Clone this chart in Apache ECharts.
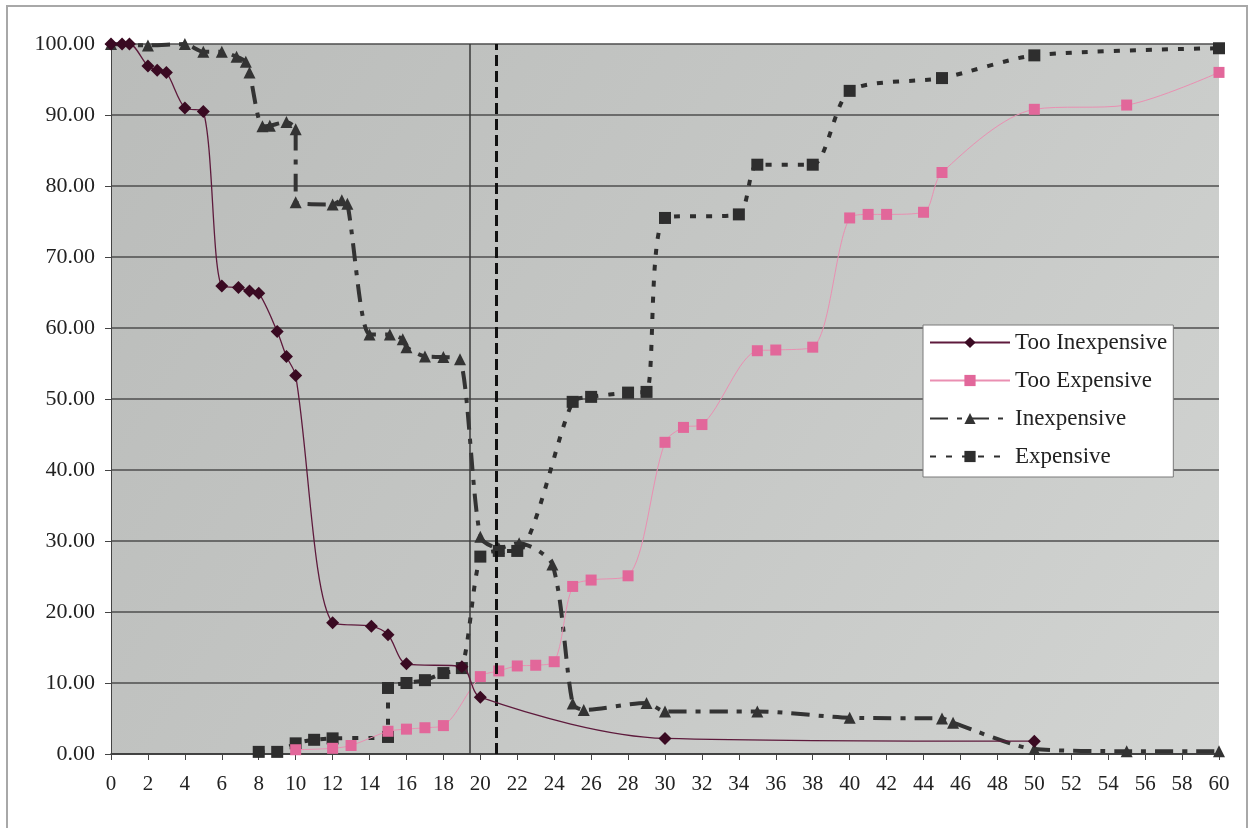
<!DOCTYPE html>
<html>
<head>
<meta charset="utf-8">
<title>Price sensitivity</title>
<script src="https://cdn.jsdelivr.net/npm/echarts@6/dist/echarts.min.js"></script>
<style>
  html, body { margin: 0; padding: 0; background: #fff; }
  #chart { width: 1251px; height: 828px; }
</style>
</head>
<body>
<div id="chart"></div>
<script>
// values, [price, percent]
const tooInexpensive = [
  [0, 100], [0.6, 100], [1, 100], [2, 96.9], [2.5, 96.3], [3, 96.0], [4, 91.0], [5, 90.5],
  [6, 65.9], [6.9, 65.7], [7.5, 65.2], [8, 64.9], [9, 59.5], [9.5, 56.0], [10, 53.3],
  [12, 18.5], [14.1, 18.0], [15, 16.8], [16, 12.7], [19, 12.3], [20, 8.0], [30, 2.2], [50, 1.8]
];
const tooExpensive = [
  [10, 0.6], [12, 0.8], [13, 1.2], [15, 3.2], [16, 3.5], [17, 3.7], [18, 4.0], [20, 10.9],
  [21, 11.7], [22, 12.4], [23, 12.5], [24, 13.0], [25, 23.6], [26, 24.5], [28, 25.1],
  [30, 43.9], [31, 46.0], [32, 46.4], [35, 56.8], [36, 56.9], [38, 57.3], [40, 75.5],
  [41, 76.0], [42, 76.0], [44, 76.3], [45, 81.9], [50, 90.8], [55, 91.4], [60, 96.0]
];
const inexpensive = [
  [0, 100], [2, 99.8], [4, 100], [5, 98.9], [6, 98.9], [6.8, 98.2], [7.3, 97.5], [7.5, 96.0],
  [8.2, 88.4], [8.6, 88.5], [9.5, 89.0], [10, 88.0], [10, 77.7], [12, 77.4], [12.5, 78.0],
  [12.8, 77.5], [14, 59.1], [15.1, 59.1], [15.8, 58.4], [16, 57.3], [17, 56.0], [18, 55.9],
  [18.9, 55.6], [20, 30.6], [21, 29.0], [22.1, 29.7], [23.9, 26.7], [25, 7.1], [25.6, 6.2],
  [29, 7.2], [30, 6.0], [35, 6.0], [40, 5.1], [45, 5.0], [45.6, 4.4], [50, 0.7], [55, 0.4], [60, 0.4]
];
const expensive = [
  [8, 0.3], [9, 0.3], [10, 1.5], [11, 2.0], [12, 2.2], [15, 2.4], [15, 9.3], [16, 10.0],
  [17, 10.4], [18, 11.4], [19, 12.1], [20, 27.8], [21, 28.6], [22, 28.6], [25, 49.6],
  [26, 50.3], [28, 50.9], [29, 51.0], [30, 75.5], [34, 76.0], [35, 83.0], [38, 83.0],
  [40, 93.4], [45, 95.2], [50, 98.4], [60, 99.4]
];
// vertical reference lines (price points)
const markerPrices = [19.4, 20.85];

const serif = 'Liberation Serif, Times New Roman, serif';

const chart = echarts.init(document.getElementById('chart'), null, { renderer: 'canvas' });

const option = {
  backgroundColor: '#fff',
  animation: false,
  graphic: [{
    type: 'rect',
    silent: true,
    z: -10,
    shape: { x: 7, y: 6, width: 1240, height: 840 },
    style: { fill: 'none', stroke: '#a8a8a8', lineWidth: 2 }
  }],
  grid: {
    left: 111, top: 44, right: 32, bottom: 74,
    show: true,
    borderWidth: 0,
    backgroundColor: new echarts.graphic.LinearGradient(0, 0, 1, 1, [
      { offset: 0, color: '#babcba' },
      { offset: 0.5, color: '#c5c7c5' },
      { offset: 1, color: '#d2d4d2' }
    ])
  },
  legend: {
    orient: 'vertical',
    left: 923, top: 325,
    backgroundColor: '#fff',
    borderColor: '#7a7a7a',
    borderWidth: 1,
    padding: [6, 6, 9, 6],
    itemWidth: 80,
    itemHeight: 14,
    itemGap: 15,
    textStyle: { fontFamily: serif, fontSize: 23, color: '#222' },
    data: ['Too Inexpensive', 'Too Expensive', 'Inexpensive', 'Expensive']
  },
  xAxis: {
    type: 'value',
    min: 0, max: 60, interval: 2,
    axisLine: { lineStyle: { color: '#333', width: 1.5 } },
    axisTick: { show: true, inside: false, length: 6, lineStyle: { color: '#444' } },
    axisLabel: { fontFamily: serif, fontSize: 21, color: '#222', margin: 20 },
    splitLine: { show: false }
  },
  yAxis: {
    type: 'value',
    min: 0, max: 100, interval: 10,
    axisLine: { show: true, lineStyle: { color: '#444', width: 1 } },
    axisTick: { show: true, inside: false, length: 6, lineStyle: { color: '#444' } },
    axisLabel: {
      fontFamily: serif, fontSize: 22, color: '#222', margin: 16,
      formatter: v => v.toFixed(2)
    },
    splitLine: { lineStyle: { color: '#4e4e4e', width: 1.5 } }
  },
  series: [
    {
      name: 'Too Inexpensive',
      type: 'line',
      smooth: 0.3,
      data: tooInexpensive,
      symbol: 'diamond',
      symbolSize: 13,
      lineStyle: { color: '#5e1a3c', width: 1.3 },
      itemStyle: { color: '#3a0a22' },
      z: 5,
      markLine: {
        silent: true,
        symbol: 'none',
        label: { show: false },
        data: [
          { xAxis: markerPrices[0], lineStyle: { color: '#3a3a3a', width: 1.5, type: 'solid' } },
          { xAxis: markerPrices[1], lineStyle: { color: '#111', width: 3, type: [11, 5] } }
        ]
      }
    },
    {
      name: 'Too Expensive',
      type: 'line',
      smooth: 0.3,
      data: tooExpensive,
      symbol: 'rect',
      symbolSize: 11,
      lineStyle: { color: '#ea8fb2', width: 1 },
      itemStyle: { color: '#e2679a' },
      z: 4
    },
    {
      name: 'Inexpensive',
      type: 'line',
      smooth: 0.25,
      data: inexpensive,
      symbol: 'triangle',
      symbolSize: 12,
      lineStyle: { color: '#333', width: 4, type: [18, 9, 5, 9] },
      itemStyle: { color: '#333' },
      z: 3
    },
    {
      name: 'Expensive',
      type: 'line',
      smooth: 0.25,
      data: expensive,
      symbol: 'rect',
      symbolSize: 12,
      lineStyle: { color: '#2e2e2e', width: 4, type: [6, 10] },
      itemStyle: { color: '#2e2e2e' },
      z: 3
    }
  ]
};

chart.setOption(option);
window.addEventListener('resize', () => chart.resize());
</script>
</body>
</html>
